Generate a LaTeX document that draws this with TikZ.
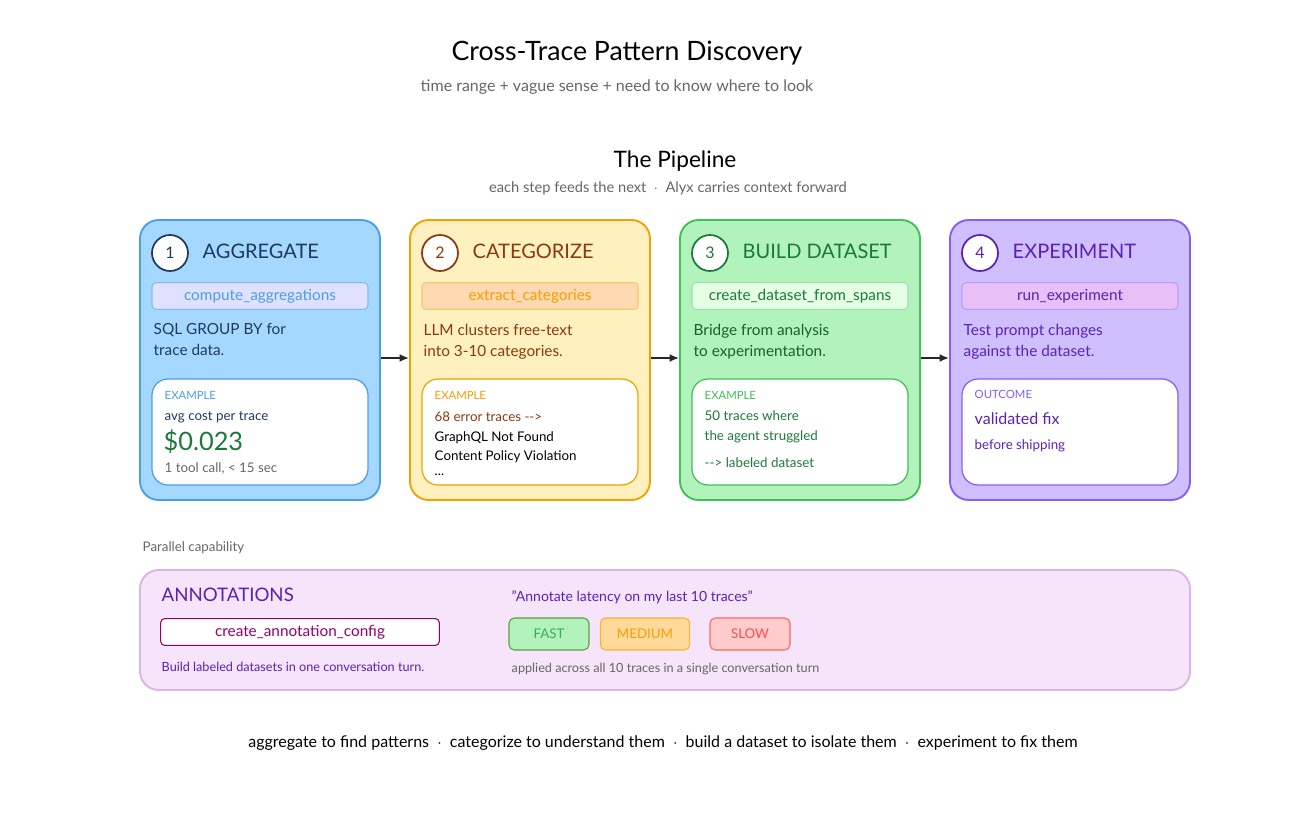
\documentclass[tikz,border=0pt]{standalone}
\usepackage{fontspec}
\setmainfont{Lato}
\usetikzlibrary{arrows.meta}
\begin{document}
\begin{tikzpicture}[x=0.75pt,y=-0.75pt,
  panel/.style={draw, line width=1.4pt, rounded corners=14pt},
  tool/.style={draw, line width=0.8pt, rounded corners=3pt, minimum width=162pt, minimum height=20pt, font=\fontsize{11.5}{12}\selectfont},
  inner/.style={draw, fill=white, line width=0.9pt, rounded corners=12pt},
  num/.style={circle, draw, fill=white, line width=1.3pt, minimum size=27pt, inner sep=0pt, font=\fontsize{12}{12}\selectfont},
  ttl/.style={anchor=west, font=\fontsize{15}{16}\selectfont},
  desc/.style={anchor=north west, align=left, font=\fontsize{11.5}{15.8}\selectfont},
  small/.style={anchor=west, font=\fontsize{8.5}{9}\selectfont},
  ex/.style={anchor=west, font=\fontsize{10}{10}\selectfont},
  arr/.style={-{Latex[length=7pt,width=6pt]}, line width=1.5pt, draw=black!85},
  tag/.style={draw, line width=0.8pt, rounded corners=4pt, minimum width=60pt, minimum height=24pt, font=\fontsize{10}{10}\selectfont}]
\useasboundingbox (0,0) rectangle (1297,817);
\definecolor{bfill}{HTML}{A5D8FF}\definecolor{bdraw}{HTML}{4A9EEA}
\definecolor{ofill}{HTML}{FFF0C0}\definecolor{odraw}{HTML}{F59F00}
\definecolor{gfill}{HTML}{B2F2BB}\definecolor{gdraw}{HTML}{40C057}
\definecolor{pfill}{HTML}{D0BFFF}\definecolor{pdraw}{HTML}{845EF7}
\definecolor{btxt}{HTML}{1E3A5F}\definecolor{otxt}{HTML}{8A3A0E}
\definecolor{gtxt}{HTML}{1B7A3A}\definecolor{ptxt}{HTML}{5B21B6}
\definecolor{afill}{HTML}{F6E4FA}\definecolor{adraw}{HTML}{DDB2E8}
\definecolor{rfill}{HTML}{E8BFF7}

\node (title) at (627,53) {\fontsize{20}{22}\selectfont Cross-Trace Pattern Discovery};
\node[text=black!60] (sub) at (617,87) {\fontsize{12}{14}\selectfont time range + vague sense + need to know where to look};
\node (pipe) at (675,161) {\fontsize{17}{18}\selectfont The Pipeline};
\node[text=black!60] (psub) at (668,188) {\fontsize{11}{12}\selectfont each step feeds the next \ $\cdot$ \ Alyx carries context forward};

% panel 1
\draw[panel, fill=bfill, draw=bdraw] (140,220) rectangle (380,500);
\node[num, draw=btxt, text=btxt] (n1) at (170,253) {1};
\node[ttl, text=btxt] (t1) at (198,251) {AGGREGATE};
\node[tool, fill=blue!12, draw=bdraw!70, text=bdraw] (k1) at (260,296) {compute\_aggregations};
\node[desc, text=btxt] (d1) at (149,319) {SQL GROUP BY for\\trace data.};
\draw[inner, draw=bdraw] (152,379) rectangle (368,485);
\node[small, text=bdraw] (e1) at (160,395) {EXAMPLE};
\node[ex, text=btxt] (e1a) at (160,417) {avg cost per trace};
\node[anchor=west, text=gtxt, font=\fontsize{19}{20}\selectfont] (e1b) at (159,442) {\$0.023};
\node[ex, text=black!60] (e1c) at (160,468) {1 tool call, < 15 sec};

% panel 2
\draw[panel, fill=ofill, draw=odraw] (410,220) rectangle (650,500);
\node[num, draw=otxt, text=otxt] (n2) at (440,253) {2};
\node[ttl, text=otxt] (t2) at (468,251) {CATEGORIZE};
\node[tool, fill=orange!30, draw=odraw!60, text=odraw] (k2) at (530,296) {extract\_categories};
\node[desc, text=otxt] (d2) at (419,319) {LLM clusters free-text\\into 3-10 categories.};
\draw[inner, draw=odraw] (422,379) rectangle (638,485);
\node[small, text=odraw] (e2) at (430,395) {EXAMPLE};
\node[ex, text=otxt] (e2a) at (430,417) {68 error traces -{}->};
\node[ex] (e2b) at (430,438) {GraphQL Not Found};
\node[ex] (e2c) at (430,457) {Content Policy Violation};
\node[ex] (e2d) at (430,475) {...};

% panel 3
\draw[panel, fill=gfill, draw=gdraw] (680,220) rectangle (920,500);
\node[num, draw=gtxt, text=gtxt] (n3) at (710,253) {3};
\node[ttl, text=gtxt] (t3) at (738,251) {BUILD DATASET};
\node[tool, fill=green!10, draw=gdraw!50, text=gtxt] (k3) at (800,296) {create\_dataset\_from\_spans};
\node[desc, text=gtxt!80!black] (d3) at (689,319) {Bridge from analysis\\to experimentation.};
\draw[inner, draw=gdraw] (692,379) rectangle (908,485);
\node[small, text=gdraw] (e3) at (700,395) {EXAMPLE};
\node[ex, text=gtxt] (e3a) at (700,416) {50 traces where};
\node[ex, text=gtxt] (e3b) at (700,437) {the agent struggled};
\node[ex, text=gtxt] (e3c) at (700,463) {-{}-> labeled dataset};

% panel 4
\draw[panel, fill=pfill, draw=pdraw] (950,220) rectangle (1190,500);
\node[num, draw=ptxt, text=ptxt] (n4) at (980,253) {4};
\node[ttl, text=ptxt] (t4) at (1008,251) {EXPERIMENT};
\node[tool, fill=rfill, draw=pdraw!60, text=ptxt] (k4) at (1070,296) {run\_experiment};
\node[desc, text=ptxt] (d4) at (959,319) {Test prompt changes\\against the dataset.};
\draw[inner, draw=pdraw] (962,379) rectangle (1178,485);
\node[small, text=pdraw] (e4) at (970,394) {OUTCOME};
\node[anchor=west, text=ptxt, font=\fontsize{12}{12}\selectfont] (e4a) at (970,419) {validated fix};
\node[ex, text=ptxt] (e4b) at (970,446) {before shipping};

% arrows
\coordinate (a1) at (381,358); \coordinate (b1) at (409,358);
\coordinate (a2) at (651,358); \coordinate (b2) at (679,358);
\coordinate (a3) at (921,358); \coordinate (b3) at (949,358);
\draw[arr] (a1) -- (b1); \draw[arr] (a2) -- (b2); \draw[arr] (a3) -- (b3);

% annotations
\node[anchor=west, text=black!60, font=\fontsize{10}{10}\selectfont] (par) at (138,548) {Parallel capability};
\draw[panel, fill=afill, draw=adraw] (140,570) rectangle (1190,690);
\node[anchor=west, text=ptxt, font=\fontsize{14}{14}\selectfont] (ann) at (157,595) {ANNOTATIONS};
\node[tool, fill=white, draw=violet!70!purple, text=violet!70!purple, minimum width=209pt] (k5) at (300,632) {create\_annotation\_config};
\node[anchor=west, text=ptxt, font=\fontsize{9.5}{10}\selectfont] (bl) at (157,667) {Build labeled datasets in one conversation turn.};
\node[anchor=west, text=ptxt, font=\fontsize{10.5}{10}\selectfont] (q) at (507,597) {"Annotate latency on my last 10 traces"};
\node[tag, fill=gfill, draw=gdraw!80!red, text=gdraw!90!black] (f) at (549,634) {FAST};
\node[tag, fill=ofill!80!orange, draw=odraw!80, text=odraw, minimum width=67pt] (m) at (645,634) {MEDIUM};
\node[tag, fill=red!20, draw=red!60, text=red!70] (s) at (750,634) {SLOW};
\node[anchor=west, text=black!60, font=\fontsize{9.5}{10}\selectfont] (ap) at (507,669) {applied across all 10 traces in a single conversation turn};

\node (foot) at (663,743) {\fontsize{12}{12}\selectfont aggregate to find patterns \ $\cdot$ \ categorize to understand them \ $\cdot$ \ build a dataset to isolate them \ $\cdot$ \ experiment to fix them};
\end{tikzpicture}
\end{document}
